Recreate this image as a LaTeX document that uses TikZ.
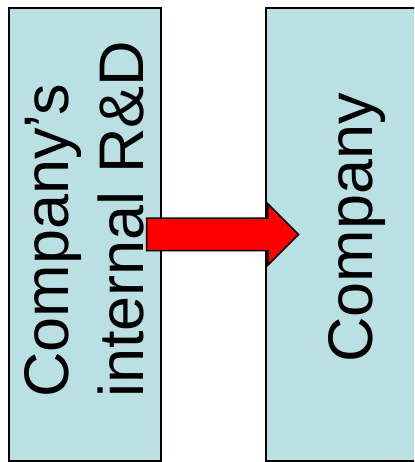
\documentclass[tikz,border=0pt]{standalone}
\usepackage{fontspec}
\setmainfont{Liberation Sans}
\usepackage{tikz}
\usetikzlibrary{shapes}
\usetikzlibrary{shapes.arrows}
\usetikzlibrary{calc}
\usetikzlibrary{positioning}
\usepackage{xcolor}
\definecolor{mycyan}{HTML}{BBE0E3}
\tikzset{x=1pt, y=1pt, every text node part/.style={font={\fontsize{63}{75}\selectfont}}}
\tikzstyle{block} = [draw=black, fill=mycyan, line width=1.5pt, minimum width=152pt, minimum height=453pt, inner sep=0]
\tikzstyle{vtext} = [rotate=90, inner sep=0, align=left, anchor=base west]
\tikzstyle{bigarrow} = [single arrow, draw=black, fill=red, line width=1.5pt, minimum height=152pt, inner xsep=0, inner ysep=15.5pt, single arrow head extend=14.5pt, single arrow head indent=0pt, anchor=tail]

\begin{document}
\begin{tikzpicture}
  \useasboundingbox (0,0) rectangle (414,462);
  \clip (0,0) rectangle (414,462);
  \node[block] (rd) at (85,227.5) {};
  \node[block, minimum width=180pt] (company) at (356,227.5) {};
  \node[vtext] (rdtext) at (143,64) {Company’s\\internal R\&D};
  \node[vtext] (companytext) at (372,99) {Company};
  \node[bigarrow] (transfer) at ([xshift=-16pt]rd.east) {};
\end{tikzpicture}
\end{document}
